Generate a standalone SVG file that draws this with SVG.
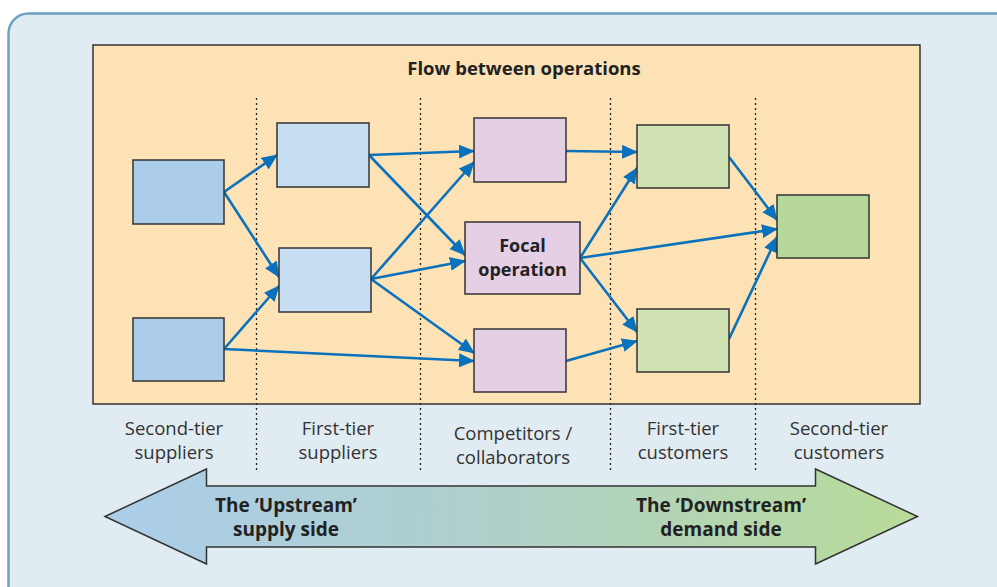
<svg xmlns="http://www.w3.org/2000/svg" width="997" height="587" viewBox="0 0 997 587">
<defs>
<marker id="ah" markerUnits="userSpaceOnUse" markerWidth="16" markerHeight="14" viewBox="0 0 16 14" refX="15" refY="7" orient="auto">
<path d="M0,0 L16,7 L0,14 Z" fill="#0a72bd"/>
</marker>
<linearGradient id="grad" x1="105" y1="0" x2="918" y2="0" gradientUnits="userSpaceOnUse">
<stop offset="0" stop-color="#abcdea"/>
<stop offset="0.5" stop-color="#afd0c8"/>
<stop offset="1" stop-color="#b8dc98"/>
</linearGradient>
<style>
.box{stroke:#333;stroke-width:1.5}
.s2{fill:#abcdea}.s1{fill:#c6ddf2}.cp{fill:#e5cfe4}.c1{fill:#d1e3b2}.c2{fill:#b6d99b}
.dot{stroke:#222;stroke-width:1.3;stroke-dasharray:2 3;fill:none}
.con{stroke:#0a72bd;stroke-width:2.6;fill:none;marker-end:url(#ah)}
.lab{font-family:"Open Sans","Noto Sans",sans-serif;font-size:18.5px;fill:#333;text-anchor:middle}
.bold{font-family:"Open Sans","Noto Sans",sans-serif;font-size:18px;font-weight:bold;fill:#222;text-anchor:middle}
.big{font-size:19px}
</style>
</defs>
<rect x="8.5" y="13.5" width="1010" height="600" rx="20" fill="#e0ebf2" stroke="#6da2bf" stroke-width="2.5"/>
<rect x="93" y="45" width="827" height="359" fill="#fde2b6" stroke="#333" stroke-width="1.5"/>
<text class="bold" x="524" y="75" style="font-size:18.5px">Flow between operations</text>
<g id="dividers">
<line class="dot" x1="256.5" y1="98" x2="256.5" y2="473"/>
<line class="dot" x1="420.5" y1="98" x2="420.5" y2="473"/>
<line class="dot" x1="610.5" y1="98" x2="610.5" y2="473"/>
<line class="dot" x1="755.5" y1="98" x2="755.5" y2="473"/>
</g>
<g id="connectors">
<line class="con" x1="224" y1="192" x2="277" y2="155"/>
<line class="con" x1="224" y1="192" x2="279" y2="277"/>
<line class="con" x1="224" y1="349" x2="279" y2="286"/>
<line class="con" x1="224" y1="349" x2="474" y2="361"/>
<line class="con" x1="369" y1="155" x2="474" y2="151"/>
<line class="con" x1="369" y1="155" x2="465" y2="255"/>
<line class="con" x1="371" y1="279" x2="474" y2="162"/>
<line class="con" x1="371" y1="279" x2="465" y2="261"/>
<line class="con" x1="371" y1="279" x2="474" y2="353"/>
<line class="con" x1="566" y1="151" x2="637" y2="152"/>
<line class="con" x1="580" y1="258" x2="637" y2="168"/>
<line class="con" x1="580" y1="258" x2="777" y2="229"/>
<line class="con" x1="580" y1="258" x2="637" y2="332"/>
<line class="con" x1="566" y1="361" x2="637" y2="341"/>
<line class="con" x1="729" y1="157" x2="777" y2="220"/>
<line class="con" x1="729" y1="339" x2="777" y2="237"/>
</g>
<g id="second-tier-supplier-1"><rect class="box s2" x="133" y="160" width="91" height="64"/></g>
<g id="second-tier-supplier-2"><rect class="box s2" x="133" y="318" width="91" height="63"/></g>
<g id="first-tier-supplier-1"><rect class="box s1" x="277" y="123" width="92" height="64"/></g>
<g id="first-tier-supplier-2"><rect class="box s1" x="279" y="248" width="92" height="64"/></g>
<g id="competitor-1"><rect class="box cp" x="474" y="118" width="92" height="64"/></g>
<g id="focal-operation"><rect class="box cp" x="465" y="222" width="115" height="72"/>
<text class="bold" x="522.5" y="252">Focal</text>
<text class="bold" x="522.5" y="276">operation</text></g>
<g id="competitor-2"><rect class="box cp" x="474" y="329" width="92" height="63"/></g>
<g id="first-tier-customer-1"><rect class="box c1" x="637" y="125" width="92" height="63"/></g>
<g id="first-tier-customer-2"><rect class="box c1" x="637" y="309" width="92" height="63"/></g>
<g id="second-tier-customer"><rect class="box c2" x="777" y="195" width="92" height="63"/></g>
<g id="tier-labels">
<text class="lab" x="174" y="435">Second-tier</text>
<text class="lab" x="174" y="459">suppliers</text>
<text class="lab" x="338" y="435">First-tier</text>
<text class="lab" x="338" y="459">suppliers</text>
<text class="lab" x="513" y="440">Competitors /</text>
<text class="lab" x="513" y="464">collaborators</text>
<text class="lab" x="683" y="435">First-tier</text>
<text class="lab" x="683" y="459">customers</text>
<text class="lab" x="839" y="435">Second-tier</text>
<text class="lab" x="839" y="459">customers</text>
</g>
<g id="stream-arrow">
<path d="M105,516.5 L206.5,469 L206.5,486 L815.5,486 L815.5,469 L917.5,516.5 L815.5,564 L815.5,547 L206.5,547 L206.5,564 Z" fill="url(#grad)" stroke="#333" stroke-width="1.5"/>
<text class="bold big" x="286" y="512">The ‘Upstream’</text>
<text class="bold big" x="286" y="536">supply side</text>
<text class="bold big" x="721" y="512">The ‘Downstream’</text>
<text class="bold big" x="721" y="536">demand side</text>
</g>
</svg>
